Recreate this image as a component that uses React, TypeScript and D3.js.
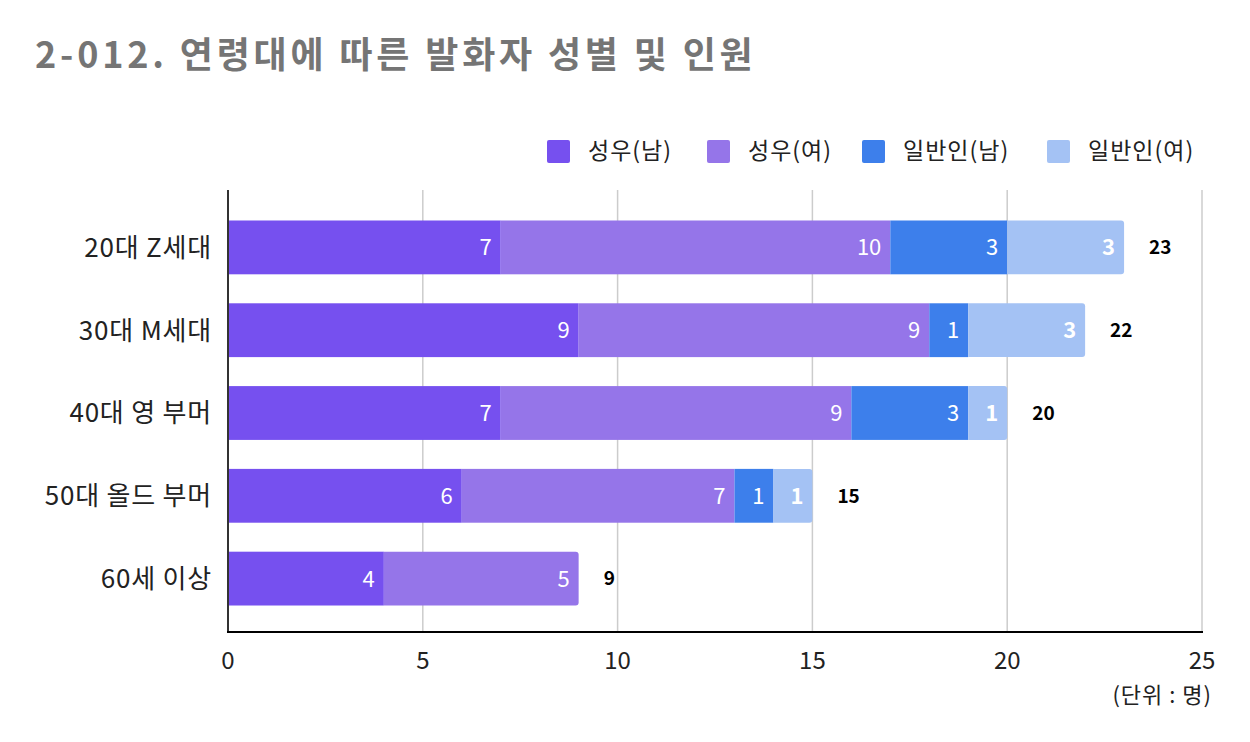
import React from "react";
import { scaleLinear, scaleBand, stack } from "d3";

const categories = ["20대 Z세대", "30대 M세대", "40대 영 부머", "50대 올드 부머", "60세 이상"];
const seriesNames = ["성우(남)", "성우(여)", "일반인(남)", "일반인(여)"];
const actorMale = [7, 9, 7, 6, 4];
const actorFemale = [10, 9, 9, 7, 5];
const publicMale = [3, 1, 3, 1, 0];
const publicFemale = [3, 3, 1, 1, 0];
const xTicks = [0, 5, 10, 15, 20, 25];
const colors = ["#7650EF", "#9575E9", "#3D7FEB", "#A4C2F4"];

const font = "'Noto Sans CJK KR', 'Noto Sans', sans-serif";

const App = () => {
  const width = 1250;
  const height = 742;

  const rows = categories.map((c, i) => ({
    cat: c,
    s0: actorMale[i],
    s1: actorFemale[i],
    s2: publicMale[i],
    s3: publicFemale[i],
  }));
  const keys = ["s0", "s1", "s2", "s3"];
  const layers = stack().keys(keys)(rows as any);

  const xScale = scaleLinear().domain([0, 25]).range([228, 1202]);
  const yScale = scaleBand().domain(categories).range([206, 620]).paddingInner(0.35).paddingOuter(0.175);
  const bh = yScale.bandwidth();

  const totals = rows.map((r) => r.s0 + r.s1 + r.s2 + r.s3);
  // last non-empty segment gets rounded right corners
  const lastKey = rows.map((r) => {
    let k = 0;
    keys.forEach((key, j) => {
      if ((r as any)[key] > 0) k = j;
    });
    return k;
  });

  const segPath = (x0: number, x1: number, y: number, h: number, r: number) =>
    `M${x0},${y}H${x1 - r}Q${x1},${y} ${x1},${y + r}V${y + h - r}Q${x1},${y + h} ${x1 - r},${y + h}H${x0}Z`;

  const legendX = [547, 707, 862, 1047];

  return (
    <svg width={width} height={height} viewBox={`0 0 ${width} ${height}`} style={{ display: "block", position: "absolute", left: 0, top: 0, fontFamily: font }}>
      <rect width={width} height={height} fill="#fff" />
      <text x={35} y={68} fontSize={36} fontWeight="bold" fill="#757575" letterSpacing={3.8}>
        2-012. 연령대에 따른 발화자 성별 및 인원
      </text>

      {seriesNames.map((s, i) => (
        <g key={s}>
          <rect x={legendX[i]} y={140} width={23} height={23} rx={2} fill={colors[i]} />
          <text x={legendX[i] + 41} y={159} fontSize={23} fill="#222" letterSpacing={1}>
            {s}
          </text>
        </g>
      ))}

      {xTicks.slice(1).map((t) => (
        <line key={t} x1={xScale(t)} x2={xScale(t)} y1={190} y2={632} stroke="#cccccc" strokeWidth={1.5} />
      ))}

      {layers.map((layer, j) =>
        layer.map((d, i) => {
          const v = d[1] - d[0];
          if (v <= 0) return null;
          const x0 = xScale(d[0]);
          const x1 = xScale(d[1]);
          const y = yScale(categories[i]) as number;
          return (
            <g key={`${j}-${i}`}>
              {lastKey[i] === j ? (
                <path d={segPath(x0, x1, y, bh, 3)} fill={colors[j]} />
              ) : (
                <rect x={x0} y={y} width={x1 - x0} height={bh} fill={colors[j]} />
              )}
              <text
                x={x1 - 9}
                y={y + bh / 2}
                dy="0.36em"
                textAnchor="end"
                fontSize={22}
                fontWeight={j === 3 ? "bold" : "normal"}
                fill="#fff"
              >
                {v}
              </text>
            </g>
          );
        })
      )}

      {totals.map((t, i) => (
        <text
          key={i}
          x={xScale(t) + 25}
          y={(yScale(categories[i]) as number) + bh / 2}
          dy="0.36em"
          fontSize={19}
          fontWeight="bold"
          fill="#000"
        >
          {t}
        </text>
      ))}

      {categories.map((c) => (
        <text
          key={c}
          x={212}
          y={(yScale(c) as number) + bh / 2}
          dy="0.36em"
          textAnchor="end"
          fontSize={26}
          fill="#222"
          letterSpacing={0.8}
        >
          {c}
        </text>
      ))}

      <line x1={228} x2={228} y1={190} y2={633} stroke="#333" strokeWidth={2} />
      <line x1={227} x2={1203} y1={632} y2={632} stroke="#000" strokeWidth={2} />

      {xTicks.map((t) => (
        <text key={t} x={xScale(t)} y={669} textAnchor="middle" fontSize={24} fill="#222">
          {t}
        </text>
      ))}

      <text x={1212} y={703} textAnchor="end" fontSize={22} fill="#222" letterSpacing={1}>
        (단위 : 명)
      </text>
    </svg>
  );
};

export default App;
